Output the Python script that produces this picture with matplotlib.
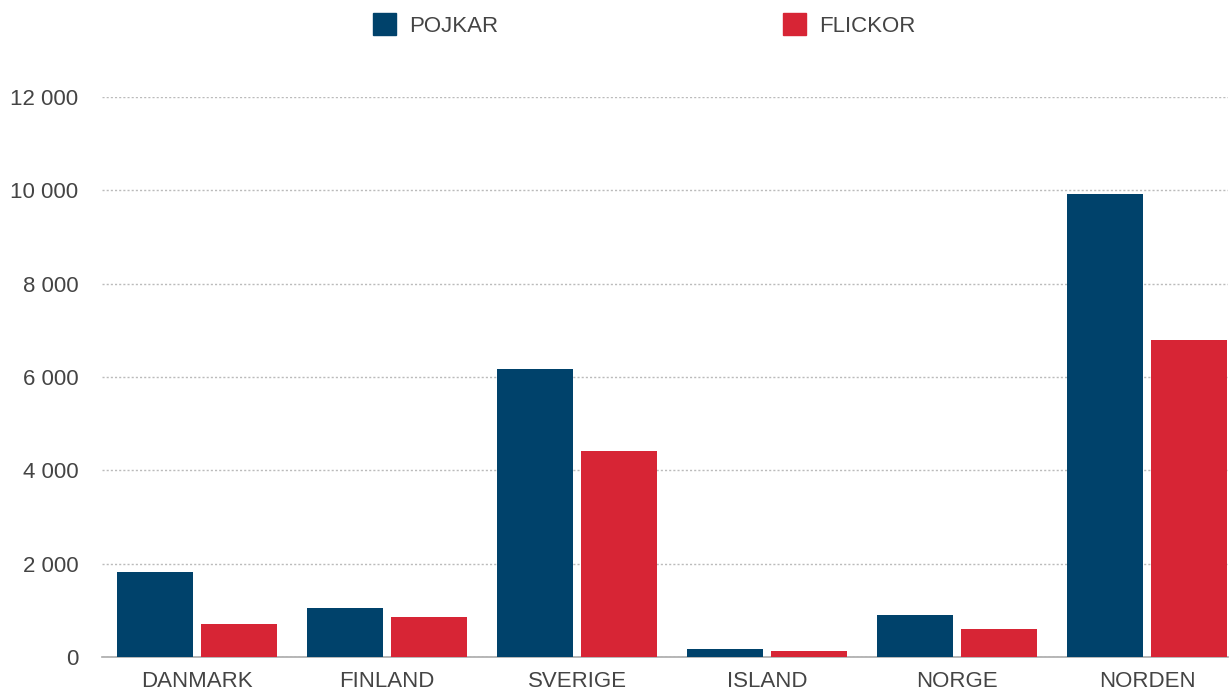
import numpy as np
import matplotlib.pyplot as plt
from matplotlib.ticker import FuncFormatter

# -------------------------------------------------
# Data
# -------------------------------------------------
countries = ["DANMARK", "FINLAND", "SVERIGE", "ISLAND", "NORGE", "NORDEN"]
pojkar = [1820, 1050, 6170, 170, 900, 9920]
flickor = [710, 860, 4410, 130, 600, 6790]
y_ticks = [0, 2000, 4000, 6000, 8000, 10000, 12000]

BLUE = "#00426b"
RED = "#d72535"
TEXT = "#444444"

plt.rcParams["font.family"] = ["Liberation Sans Narrow", "Liberation Sans", "DejaVu Sans"]

W, H = 1230, 693
fig = plt.figure(figsize=(W / 100, H / 100), dpi=100)
ax = fig.add_axes([102 / W, 1 - 657 / H, (1228 - 102) / W, (657 - 97) / H])

x = np.arange(len(countries))
bw = 0.40
off = 0.221
ax.bar(x - off, pojkar, width=bw, color=BLUE, zorder=3, label="POJKAR")
ax.bar(x + off, flickor, width=bw, color=RED, zorder=3, label="FLICKOR")

# last category is cut off a little at the right edge, as in the original
ax.set_xlim(-0.5, 5.424)
ax.set_ylim(0, 12000)
ax.set_yticks(y_ticks)
ax.yaxis.set_major_formatter(FuncFormatter(lambda v, p: f"{int(v):,}".replace(",", " ")))
ax.set_xticks(x)
ax.set_xticklabels(countries)

ax.grid(axis="y", color="#bbbbbb", linestyle=(0, (1.5, 1.5)), linewidth=1, zorder=0)
for s in ["top", "right", "left"]:
    ax.spines[s].set_visible(False)
ax.spines["bottom"].set_color("#aaaaaa")
ax.spines["bottom"].set_linewidth(1.2)
ax.tick_params(axis="both", length=0, labelsize=16, colors=TEXT)
ax.tick_params(axis="y", pad=17)
ax.tick_params(axis="x", pad=10)

# legend drawn by hand at the top
for label, color, xs in [("POJKAR", BLUE, 373), ("FLICKOR", RED, 783)]:
    fig.patches.append(plt.Rectangle((xs / W, 1 - 35 / H), 23 / W, 22 / H,
                                     transform=fig.transFigure, color=color))
    fig.text((xs + 36) / W, 1 - 27 / H, label, fontsize=16, color=TEXT, va="center")

fig.savefig("out.png", dpi=100)
